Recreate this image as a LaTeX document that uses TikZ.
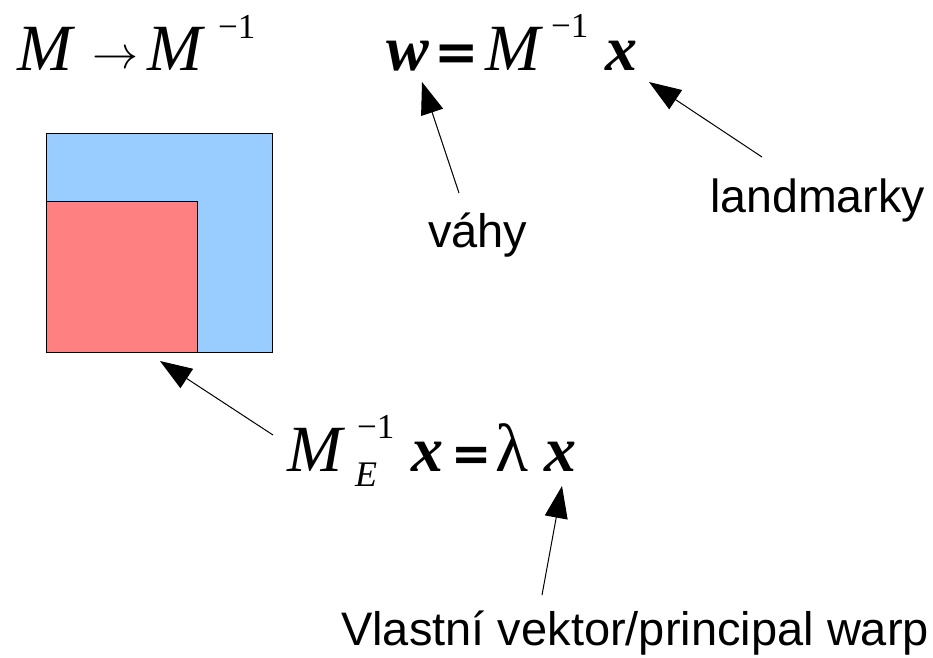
\documentclass[tikz,border=0pt]{standalone}
\usepackage{fontspec}
\setmainfont{Liberation Serif}
\newfontfamily\lsans{Liberation Sans}
\newfontfamily\eqfont{DejaVu Sans}
\usetikzlibrary{arrows.meta}
\definecolor{sqblue}{HTML}{99CCFF}
\definecolor{sqred}{HTML}{FF8080}
\tikzset{
  big/.style={anchor=base west, inner sep=0pt, font=\fontsize{66}{66}\selectfont},
  bigb/.style={anchor=base west, inner sep=0pt, font=\fontsize{64}{64}\selectfont\bfseries},
  eqs/.style={anchor=base west, inner sep=0pt, font=\eqfont\bfseries\fontsize{#1}{#1}\selectfont},
  sup/.style={anchor=base west, inner sep=0pt, font=\fontsize{35}{35}\selectfont},
  subs/.style={anchor=base west, inner sep=0pt, font=\fontsize{36}{36}\selectfont\itshape},
  lbl/.style={anchor=base west, inner sep=0pt, font=\lsans\fontsize{47}{47}\selectfont},
  arr/.style={line width=1pt, -{Triangle[length=32pt,width=23pt]}},
  sq/.style={draw=black, line width=1pt}
}
\begin{document}
\begin{tikzpicture}[x=1pt,y=-1pt]
\useasboundingbox (0,0) rectangle (933,657);
% squares
\draw[sq, fill=sqblue] (46,133) rectangle (272,352);
\draw[sq, fill=sqred] (46,201) rectangle (197,352);
% formula 1
\node[big] (f1m) at (17,70) {\itshape M};
\node[anchor=base west, inner sep=0pt] (f1arr) at (92,68) {\scalebox{4.6}{$\rightarrow$}};
\node[big] (f1m2) at (147,70) {\itshape M};
\node[sup] (f1s) at (218,38) {−1};
% formula 2
\node[bigb] (f2w) at (386,70) {\itshape w};
\node[eqs=53] (f2eq) at (434,70) {=};
\node[big] (f2m) at (485,70) {\itshape M};
\node[sup] (f2s) at (551,37) {−1};
\node[bigb] (f2x) at (605,70) {\itshape x};
% formula 3
\node[big] (f3m) at (287,471) {\itshape M};
\node[sup] (f3s) at (357,438) {−1};
\node[subs] (f3e) at (355,486) {E};
\node[bigb] (f3x) at (411,471) {\itshape x};
\node[eqs=48] (f3eq) at (451,470) {=};
\node[anchor=base west, inner sep=0pt, font=\fontsize{68}{68}\selectfont] (f3l) at (495,471) {λ};
\node[bigb] (f3x2) at (544,471) {\itshape x};
% labels
\node[lbl] (vahy) at (428,247) {váhy};
\node[lbl, font=\lsans\fontsize{46.5}{46.5}\selectfont] (land) at (710,212) {landmarky};
\node[lbl] (vlast) at (341,645) {Vlastní vektor/principal warp};
% arrow ends
\coordinate (tRed) at (273,435);
\coordinate (hRed) at (160,361);
\coordinate (tW) at (459,193);
\coordinate (hW) at (422,82);
\coordinate (tX) at (762,157);
\coordinate (hX) at (649,82);
\coordinate (tV) at (542,595);
\coordinate (hV) at (562,486);
\draw[arr] (tRed) -- (hRed);
\draw[arr] (tW) -- (hW);
\draw[arr] (tX) -- (hX);
\draw[arr] (tV) -- (hV);
\end{tikzpicture}
\end{document}
